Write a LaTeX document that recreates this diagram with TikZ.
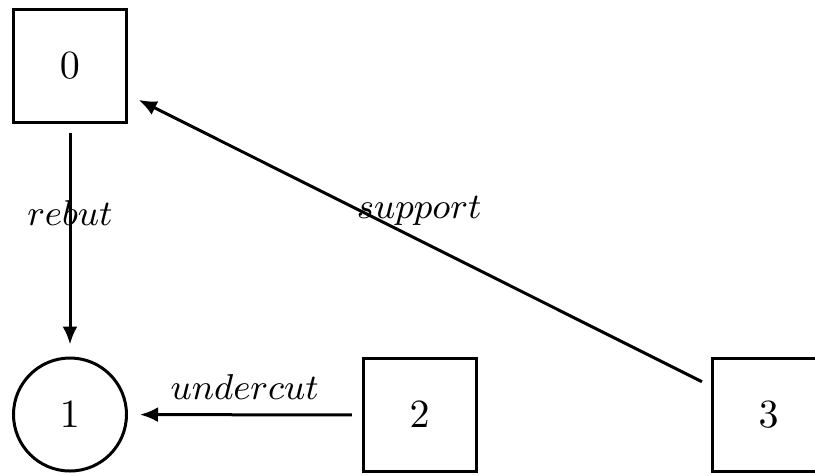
\documentclass[tikz,border=0pt]{standalone}
\usetikzlibrary{arrows.meta}
\begin{document}
\begin{tikzpicture}[x=0.25pt, y=-0.25pt,
  arg/.style={draw, line width=0.75pt, minimum size=28.25pt, inner sep=0pt, font=\normalsize},
  boxnode/.style={arg, rectangle},
  roundnode/.style={arg, circle},
  rel/.style={line width=0.75pt, -{Latex[length=4.5pt, width=3.75pt]},
              shorten >=3pt, shorten <=2.4pt},
  lbl/.style={midway, above, font=\small}]
  \useasboundingbox (0,0) rectangle (815,475);
  \node[boxnode] (n0) at (70,65.5) {$0$};
  \node[roundnode] (n1) at (70,414.5) {$1$};
  \node[boxnode] (n2) at (419.5,415) {$2$};
  \node[boxnode] (n3) at (768.5,415) {$3$};
  \draw[rel] (n0) -- node[lbl] {$rebut$} (n1);
  \draw[rel] (n2) -- node[lbl] {$undercut$} (n1);
  \draw[rel] (n3) -- node[lbl] {$support$} (n0);
\end{tikzpicture}
\end{document}
